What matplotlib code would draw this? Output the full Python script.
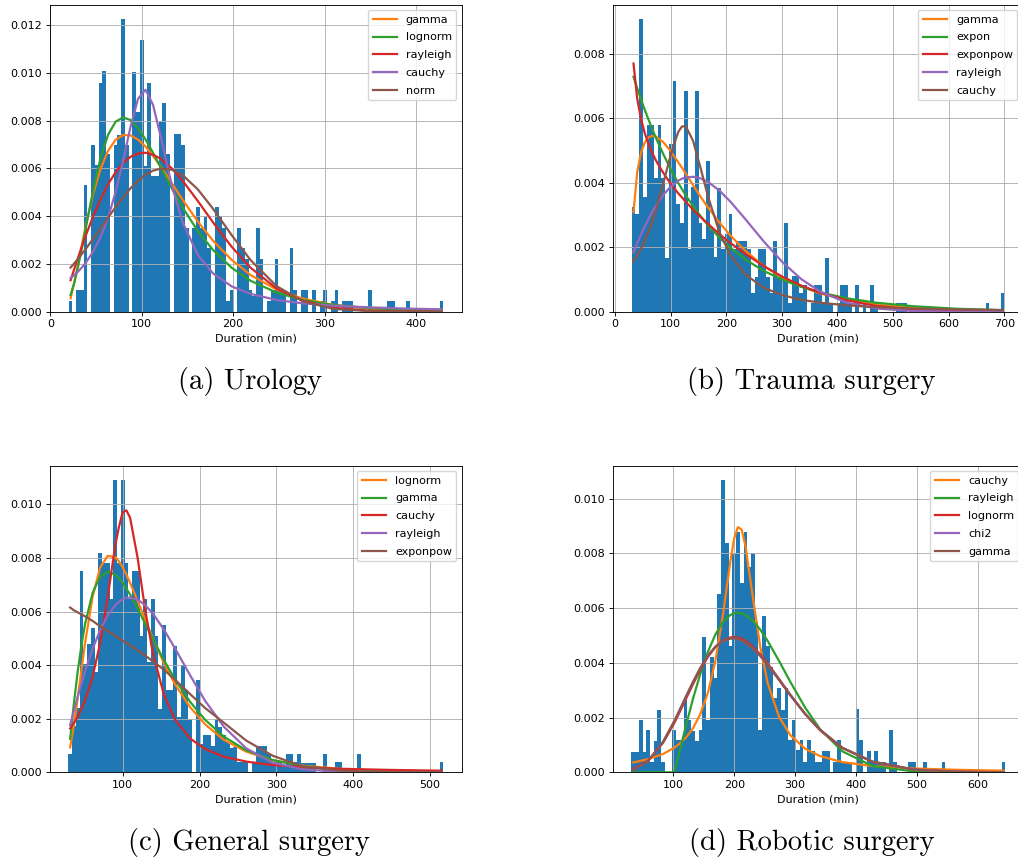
import numpy as np
import matplotlib
matplotlib.use("Agg")
import matplotlib.pyplot as plt

# ---------------- data (densities in units of 1e-3 for bars, 1e-5 for curves) ----------------
# Panel (a) Urology
uro_range = (20, 430)
uro_bars = [0.44, 0, 0.9, 0.9, 5.3, 0, 7.0, 6.15, 9.6, 10.1,
            6.6, 0, 7.0, 7.4, 12.25, 7.0, 0, 10.05, 8.35, 11.4,
            6.1, 9.6, 5.7, 5.7, 8.0, 8.75, 6.6, 0, 7.45, 7.45,
            7.0, 3.5, 0, 3.5, 4.4, 3.5, 4.0, 2.65, 0, 4.4,
            4.0, 3.5, 0.45, 0.9, 0, 3.5, 2.65, 2.2, 0.9, 0.67,
            3.5, 2.2, 0, 0.45, 0.9, 2.2, 0.9, 0.9, 0, 2.65,
            0.9, 0, 0.9, 0.9, 0, 0.9, 0, 0.45, 0.9, 0,
            0.45, 0.9, 0, 0.45, 0.45, 0.45, 0, 0, 0, 0,
            0.9, 0, 0, 0, 0, 0.45, 0.45, 0, 0, 0,
            0.45, 0, 0, 0, 0, 0, 0, 0, 0, 0.45]
uro_idx = [0, 1, 2, 3, 4, 6, 8, 10, 12, 14, 16, 18, 20, 22, 24, 27, 30, 34, 38, 43, 48, 55, 62, 70, 80, 90, 99]
uro_names = ["gamma", "lognorm", "rayleigh", "cauchy", "norm"]
uro_gamma = [56, 124, 200, 279, 356, 492, 599, 674, 720, 740, 739, 721, 692, 653, 610, 539, 467, 377, 298, 217, 154, 93, 55, 29, 13, 5, 3]
uro_lognorm = [70, 122, 189, 265, 346, 507, 644, 741, 796, 814, 803, 769, 722, 666, 606, 517, 434, 337, 259, 184, 130, 80, 49, 28, 15, 8, 4]
uro_rayleigh = [132, 180, 227, 273, 317, 399, 471, 534, 584, 623, 649, 663, 666, 658, 641, 601, 547, 463, 375, 272, 185, 97, 46, 17, 4, 1, 0]
uro_cauchy = [141, 154, 168, 185, 204, 251, 312, 394, 500, 631, 775, 892, 930, 867, 738, 530, 371, 237, 161, 106, 75, 49, 35, 25, 18, 13, 10]
uro_norm = [185, 203, 222, 242, 262, 305, 349, 394, 438, 479, 517, 549, 574, 591, 599, 595, 571, 512, 432, 321, 217, 107, 44, 12, 2, 0, 0]

# Panel (b) Trauma surgery
tra_range = (30, 700)
tra_bars = [3.25, 3.04, 9.06, 3.55, 5.77, 5.77, 4.15, 5.77, 4.15, 1.65,
            5.2, 7.14, 3.35, 2.75, 6.85, 1.93, 3.86, 6.85, 2.75, 2.24,
            4.66, 2.52, 1.68, 3.83, 1.93, 2.42, 3.04, 1.93, 2.2, 2.2,
            2.2, 1.93, 0.57, 1.08, 1.93, 1.93, 1.08, 0.57, 2.2, 1.08,
            1.08, 2.75, 0.28, 1.1, 1.1, 0.57, 0.83, 0, 0.28, 0.83,
            0.83, 0.28, 1.67, 0.28, 0, 0.28, 0.83, 0.83, 0.28, 0,
            0.83, 0, 0.28, 0, 0.83, 0.28, 0, 0, 0, 0,
            0, 0.28, 0.28, 0.28, 0, 0, 0, 0, 0, 0,
            0, 0, 0, 0, 0, 0, 0, 0, 0, 0,
            0, 0, 0, 0, 0, 0.28, 0, 0, 0, 0.57]
tra_idx = [0, 1, 2, 3, 4, 5, 6, 8, 10, 12, 13, 14, 16, 18, 20, 23, 26, 30, 35, 40, 45, 50, 57, 65, 75, 87, 99]
tra_names = ["gamma", "expon", "exponpow", "rayleigh", "cauchy"]
tra_gamma = [308, 433, 492, 524, 540, 545, 543, 525, 497, 463, 446, 428, 392, 356, 323, 277, 236, 189, 141, 105, 78, 57, 37, 22, 12, 5, 2]
tra_expon = [728, 692, 659, 626, 596, 567, 539, 488, 441, 399, 380, 361, 327, 296, 268, 230, 198, 162, 126, 99, 77, 60, 42, 28, 17, 9, 5]
tra_exponpow = [769, 660, 598, 554, 521, 493, 469, 430, 396, 367, 354, 341, 316, 293, 272, 241, 213, 179, 141, 108, 81, 59, 36, 18, 7, 2, 0]
tra_rayleigh = [185, 212, 239, 264, 287, 309, 328, 362, 388, 406, 412, 416, 418, 413, 402, 376, 341, 287, 217, 153, 101, 63, 29, 10, 2, 0, 0]
tra_cauchy = [156, 174, 195, 219, 247, 278, 314, 398, 487, 557, 574, 575, 529, 445, 357, 248, 175, 115, 74, 51, 37, 28, 20, 14, 10, 7, 5]

# Panel (c) General surgery
gen_range = (29, 517)
gen_bars = [0.68, 1.73, 2.4, 7.5, 4.05, 4.8, 5.4, 3.74, 8.17, 7.83,
            7.83, 6.47, 10.9, 7.8, 10.9, 7.83, 6.47, 7.52, 7.52, 5.1,
            6.47, 4.1, 6.47, 5.1, 2.38, 5.48, 3.06, 3.06, 4.73, 2.07,
            4.0, 3.06, 2.0, 0, 3.43, 1.05, 1.39, 1.39, 1.0, 2.0,
            1.7, 1.39, 1.14, 0.9, 0.95, 0.4, 0.4, 0.4, 0, 0.4,
            1.0, 1.0, 1.0, 0.7, 0.4, 0.4, 0.4, 0.2, 0.7, 0.7,
            0.4, 0.7, 0.36, 0.36, 0.36, 0.36, 0, 0, 0.7, 0,
            0, 0.4, 0.4, 0, 0, 0, 0, 0.7, 0, 0,
            0, 0, 0, 0, 0, 0, 0, 0, 0, 0,
            0, 0, 0, 0, 0, 0, 0, 0, 0, 0.4]
gen_idx = [0, 1, 2, 3, 4, 6, 8, 10, 12, 13, 14, 15, 16, 18, 20, 22, 25, 28, 32, 36, 41, 47, 54, 62, 72, 85, 99]
gen_names = ["lognorm", "gamma", "cauchy", "rayleigh", "exponpow"]
gen_lognorm = [93, 175, 275, 381, 484, 656, 764, 808, 803, 788, 765, 738, 707, 640, 570, 502, 408, 328, 243, 179, 121, 77, 45, 25, 13, 5, 2]
gen_gamma = [125, 256, 374, 473, 555, 670, 730, 749, 738, 725, 707, 686, 663, 611, 555, 500, 419, 346, 263, 196, 133, 82, 46, 23, 9, 3, 1]
gen_cauchy = [164, 184, 208, 236, 269, 357, 482, 651, 844, 915, 970, 978, 950, 800, 608, 449, 290, 196, 126, 87, 58, 40, 27, 19, 13, 9, 6]
gen_rayleigh = [176, 229, 281, 330, 377, 461, 531, 585, 623, 636, 646, 651, 652, 645, 624, 594, 533, 462, 362, 267, 170, 89, 36, 11, 2, 0, 0]
gen_exponpow = [615, 605, 597, 590, 582, 565, 545, 527, 510, 500, 492, 483, 474, 455, 436, 415, 383, 345, 292, 240, 185, 118, 62, 22, 6, 1, 0]

# Panel (d) Robotic surgery
rob_range = (31, 645)
rob_bars = [0.75, 0.75, 1.91, 0.75, 1.55, 0.39, 1.16, 2.28, 0.39, 0,
            0, 1.55, 1.18, 1.18, 2.66, 1.91, 1.5, 1.14, 1.55, 4.95,
            1.91, 4.2, 3.43, 6.5, 10.67, 8.38, 4.6, 8.0, 8.78, 6.9,
            8.78, 7.5, 8.0, 5.5, 1.55, 5.7, 4.6, 3.86, 2.7, 3.07,
            2.28, 3.07, 1.18, 1.91, 0.82, 1.18, 0.39, 1.18, 0.78, 0.39,
            0.39, 0.78, 0.78, 0, 0.36, 1.18, 0.36, 0.36, 0.36, 0,
            2.3, 1.18, 0, 0.78, 0.36, 0.78, 0.36, 0.36, 0, 1.55,
            0.36, 0, 0, 0, 0.36, 0.36, 0, 0, 0.36, 0,
            0, 0, 0, 0.36, 0, 0, 0, 0, 0, 0,
            0, 0, 0, 0, 0, 0, 0, 0, 0, 0.36]
rob_idx = [0, 4, 8, 11, 12, 14, 16, 18, 20, 22, 24, 26, 27, 28, 29, 30, 32, 34, 36, 39, 42, 46, 50, 56, 64, 75, 87, 99]
rob_names = ["cauchy", "rayleigh", "lognorm", "chi2", "gamma"]
rob_cauchy = [36, 48, 67, 90, 100, 125, 161, 214, 291, 408, 575, 773, 854, 896, 887, 829, 640, 457, 324, 203, 136, 86, 59, 37, 23, 14, 9, 6]
rob_rayleigh = [0, 0, 0, 0, 53, 164, 269, 362, 441, 504, 549, 575, 581, 583, 581, 575, 554, 521, 479, 407, 331, 236, 157, 76, 23, 3, 0, 0]
rob_lognorm = [12, 43, 108, 180, 208, 265, 322, 376, 422, 458, 482, 493, 494, 492, 488, 481, 459, 431, 397, 341, 284, 213, 153, 88, 38, 10, 2, 0]
rob_chi2 = [9, 41, 111, 187, 215, 273, 330, 382, 426, 459, 480, 489, 490, 487, 482, 474, 453, 425, 392, 338, 282, 213, 155, 89, 39, 10, 2, 0]
rob_gamma = [9, 41, 111, 187, 215, 273, 330, 382, 426, 459, 480, 489, 490, 487, 482, 474, 453, 425, 392, 338, 282, 213, 155, 89, 39, 10, 2, 0]

captions = ["(a) Urology", "(b) Trauma surgery", "(c) General surgery", "(d) Robotic surgery"]

# ---------------- layout / style ----------------
W, H = 1018, 863
plt.rcParams.update({
    'font.size': 8, 'axes.linewidth': 0.64, 'grid.linewidth': 0.64,
    'xtick.major.width': 0.64, 'ytick.major.width': 0.64,
    'xtick.major.size': 2.8, 'ytick.major.size': 2.8,
    'xtick.major.pad': 2.8, 'ytick.major.pad': 2.8,
    'axes.labelpad': 3.2, 'lines.linewidth': 1.6,
    'legend.labelspacing': 0.7, 'legend.handlelength': 2.2,
})

panels = [
    (uro_range, uro_bars, uro_idx, uro_names,
     [uro_gamma, uro_lognorm, uro_rayleigh, uro_cauchy, uro_norm],
     (50, 4.7, 462, 311.7), (249.5, 381)),
    (tra_range, tra_bars, tra_idx, tra_names,
     [tra_gamma, tra_expon, tra_exponpow, tra_rayleigh, tra_cauchy],
     (613, 4.7, 1023, 311.7), (811.5, 381)),
    (gen_range, gen_bars, gen_idx, gen_names,
     [gen_lognorm, gen_gamma, gen_cauchy, gen_rayleigh, gen_exponpow],
     (49.5, 465.7, 462, 772.3), (249, 842)),
    (rob_range, rob_bars, rob_idx, rob_names,
     [rob_cauchy, rob_rayleigh, rob_lognorm, rob_chi2, rob_gamma],
     (612.6, 465.7, 1024, 772.3), (811.5, 842)),
]

fig = plt.figure(figsize=(W / 100, H / 100), dpi=100)
for (rng, bars, idx, names, series, box, cpos), cap in zip(panels, captions):
    l, t, r, b = box
    ax = fig.add_axes([l / W, 1 - b / H, (r - l) / W, (b - t) / H])
    edges = np.linspace(rng[0], rng[1], len(bars) + 1)
    centers = (edges[:-1] + edges[1:]) / 2
    ax.bar(edges[:-1], np.array(bars) * 1e-3, width=np.diff(edges), align='edge',
           color='C0', linewidth=0)
    xs = centers[idx]
    for ci, (nm, vals) in enumerate(zip(names, series)):
        ax.plot(xs, np.array(vals) * 1e-5, color=f'C{ci + 1}', label=nm)
    ax.grid(True)
    ax.set_xlabel("Duration (min)")
    ax.legend(loc='upper right')
    fig.text(cpos[0] / W, 1 - cpos[1] / H, cap, ha='center', va='center',
             fontsize=20.6, family=['cmr10', 'DejaVu Serif'])

fig.savefig("out.png", dpi=100)
